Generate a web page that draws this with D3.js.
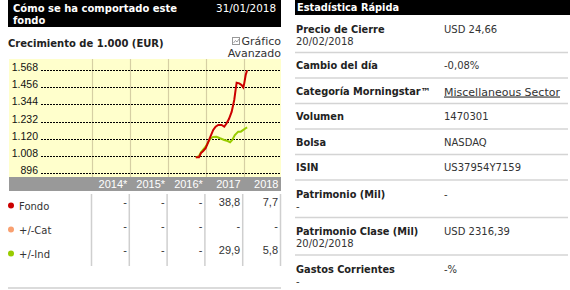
<!DOCTYPE html>
<html lang="es">
	<head>
		<meta charset="utf-8">
		<script src="https://d3js.org/d3.v7.min.js"></script>
		<style>
			body { margin: 0; background: #fff; }
			text { font-family: "DejaVu Sans", Verdana, sans-serif; }
			.arial { font-family: "Liberation Sans", Arial, sans-serif; }
		</style>
	</head>
	<body>
		<script type="text/javascript">

			// Growth of 1.000 (EUR)
			var fondoDates = ["2016-09-24","2016-10-25","2016-11-13","2016-12-05","2016-12-28","2017-01-17","2017-02-08",
				"2017-03-11","2017-04-03","2017-04-28","2017-05-31","2017-06-25","2017-07-18","2017-08-09","2017-09-04",
				"2017-09-29","2017-10-12","2017-10-22","2017-11-16","2017-12-09","2017-12-25","2018-01-03","2018-01-17","2018-01-31"];
			var fondoValues = [1000,1000,1028,1041,1059,1091,1128,1178,1199,1210,1210,1199,1221,1249,1295,1373,1438,1485,1481,1470,1455,1481,1535,1566];

			var indDates = ["2016-09-24","2016-10-25","2016-11-13","2016-12-28","2017-02-08","2017-03-10","2017-04-12","2017-05-15",
				"2017-06-25","2017-07-28","2017-08-20","2017-09-10","2017-10-05","2017-11-06","2017-12-01","2017-12-25","2018-01-17","2018-01-31"];
			var indValues = [1000,1008,1033,1069,1119,1132,1134,1124,1113,1106,1098,1113,1145,1167,1167,1178,1189,1195];

			var yTicks = [896, 1008, 1120, 1232, 1344, 1456, 1568];
			var tickLabels = ["896", "1.008", "1.120", "1.232", "1.344", "1.456", "1.568"];

			// annual returns table
			var years = ["2014*", "2015*", "2016*", "2017", "2018"];
			var rowNames = ["Fondo", "+/-Cat", "+/-Ind"];
			var rowColors = ["#cc0000", "#f9a070", "#99cc00"];
			var fondoRet = ["-", "-", "-", "38,8", "7,7"];
			var catRet = ["-", "-", "-", "-", "-"];
			var indRet = ["-", "-", "-", "29,9", "5,8"];

			// quick stats
			var statLabels = ["Precio de Cierre", "Cambio del día", "Categoría Morningstar™", "Volumen", "Bolsa", "ISIN",
				"Patrimonio (Mil)", "Patrimonio Clase (Mil)", "Gastos Corrientes"];
			var statSubs = ["20/02/2018", "", "", "", "", "", "-", "20/02/2018", "-"];
			var statValues = ["USD 24,66", "-0,08%", "Miscellaneous Sector", "1470301", "NASDAQ", "US37954Y7159",
				"-", "USD 2316,39", "-%"];

			var w = 570;
			var h = 290;

			var svg = d3.select("body")
						.append("svg")
						.attr("width", w)
						.attr("height", h);

			var parse = d3.timeParse("%Y-%m-%d");

			// ---------- left panel ----------
			svg.append("rect").attr("x", 8).attr("y", 0).attr("width", 273).attr("height", 27).attr("fill", "#000");
			svg.append("text").attr("x", 13).attr("y", 11.5).attr("fill", "#fff")
				.style("font-size", "10px").style("font-weight", "bold").text("Cómo se ha comportado este");
			svg.append("text").attr("x", 13).attr("y", 23.5).attr("fill", "#fff")
				.style("font-size", "10px").style("font-weight", "bold").text("fondo");
			svg.append("text").attr("x", 276).attr("y", 11.5).attr("fill", "#fff").attr("text-anchor", "end")
				.style("font-size", "10.4px").text("31/01/2018");

			svg.append("text").attr("x", 8).attr("y", 46.5).attr("fill", "#222")
				.style("font-size", "10px").style("font-weight", "bold").text("Crecimiento de 1.000 (EUR)");

			// small chart icon
			svg.append("rect").attr("x", 232.5).attr("y", 37.5).attr("width", 7).attr("height", 7)
				.attr("fill", "#fff").attr("stroke", "#999");
			svg.append("polyline").attr("points", "233.5,43 235.5,40.5 237,42 239,39")
				.attr("fill", "none").attr("stroke", "#888").attr("stroke-width", 0.8);
			svg.append("text").attr("x", 281).attr("y", 45).attr("fill", "#333").attr("text-anchor", "end")
				.style("font-size", "11px").text("Gráfico");
			svg.append("text").attr("x", 281).attr("y", 57).attr("fill", "#333").attr("text-anchor", "end")
				.style("font-size", "11px").text("Avanzado");

			var chartTop = 59, chartBottom = 177;

			var x = d3.scaleTime()
					  .domain([parse("2014-01-01"), parse("2019-01-01")])
					  .range([92, 282]);
			var y = d3.scaleLinear()
					  .domain([896, 1568])
					  .range([173.3, 70]);

			svg.append("rect").attr("x", 9).attr("y", chartTop).attr("width", 272).attr("height", chartBottom - chartTop)
				.attr("fill", "#ffffcc");

			// vertical year grid
			svg.append("g")
				.selectAll("line")
				.data(d3.timeYear.range(parse("2014-01-01"), parse("2019-01-01")))
				.enter()
				.append("line")
				.attr("x1", function(d) { return Math.round(x(d)) + 0.5; })
				.attr("x2", function(d) { return Math.round(x(d)) + 0.5; })
				.attr("y1", chartTop)
				.attr("y2", chartBottom)
				.attr("stroke", "#d6cfa4")
				.attr("stroke-width", 1.2);

			// y axis with dotted gridlines (rounded so the dots stay crisp)
			var yAxis = d3.axisLeft(y.copy().interpolate(d3.interpolateRound))
						  .tickValues(yTicks)
						  .tickSize(0)
						  .tickPadding(3)
						  .tickFormat(function(d, i) { return tickLabels[i]; });

			var gy = svg.append("g")
						.attr("transform", "translate(281,0)")
						.call(yAxis);
			gy.select(".domain").remove();
			gy.selectAll(".tick line")
			  .attr("x1", -240).attr("x2", 0)
			  .attr("stroke", "#000")
			  .attr("stroke-width", 1)
			  .attr("stroke-dasharray", "2,1");
			gy.selectAll(".tick text")
			  .attr("class", "arial")
			  .attr("x", -243)
			  .attr("dy", "0.05em")
			  .attr("fill", "#111")
			  .style("font-size", "10.5px");

			var line = d3.line()
						 .x(function(d) { return x(d[0]); })
						 .y(function(d) { return y(d[1]); });

			svg.append("path")
				.datum(indDates.map(function(d, i) { return [parse(d), indValues[i]]; }))
				.attr("d", line)
				.attr("fill", "none")
				.attr("stroke", "#99cc00")
				.attr("stroke-width", 2);

			svg.append("path")
				.datum(fondoDates.map(function(d, i) { return [parse(d), fondoValues[i]]; }))
				.attr("d", line)
				.attr("fill", "none")
				.attr("stroke", "#cc0000")
				.attr("stroke-width", 2);

			// year header bar
			var col = d3.scaleBand().domain(years).range([92, 281]);

			svg.append("rect").attr("x", 9).attr("y", chartBottom).attr("width", 272).attr("height", 14).attr("fill", "#999");
			svg.append("g")
				.selectAll("text")
				.data(years)
				.enter()
				.append("text")
				.attr("class", "arial")
				.attr("x", function(d) { return col(d) + col.bandwidth() - 2.5; })
				.attr("y", 188)
				.attr("text-anchor", "end")
				.attr("fill", "#fff")
				.style("font-size", "11px")
				.text(function(d) { return d; });

			// table separators
			svg.append("g")
				.selectAll("line")
				.data([92].concat(years.map(function(d) { return col(d) + col.bandwidth(); })))
				.enter()
				.append("line")
				.attr("x1", function(d) { return d - 0.5; })
				.attr("x2", function(d) { return d - 0.5; })
				.attr("y1", 194)
				.attr("y2", 266)
				.attr("stroke", "#cfcfcf")
				.attr("stroke-width", 1.5);

			var rowsData = [fondoRet, catRet, indRet];
			rowNames.forEach(function(name, r) {
				var cy = 205.5 + r * 24;
				svg.append("circle").attr("cx", 11).attr("cy", cy).attr("r", 3).attr("fill", rowColors[r]);
				svg.append("text").attr("x", 19).attr("y", cy + 4.5).attr("fill", "#333")
					.style("font-size", "10px").text(name);
				svg.append("g")
					.selectAll("text")
					.data(rowsData[r])
					.enter()
					.append("text")
					.attr("class", "arial")
					.attr("x", function(d, i) { return col(years[i]) + col.bandwidth() - 3; })
					.attr("y", cy + 0.5)
					.attr("text-anchor", "end")
					.attr("fill", "#333")
					.style("font-size", "11px")
					.text(function(d) { return d; });
			});

			svg.append("line").attr("x1", 8).attr("x2", 281).attr("y1", 288).attr("y2", 288)
				.attr("stroke", "#cfcfcf").attr("stroke-width", 1.5);

			// ---------- right panel ----------
			svg.append("rect").attr("x", 295).attr("y", 0).attr("width", 275).attr("height", 15).attr("fill", "#000");
			svg.append("text").attr("x", 297).attr("y", 11).attr("fill", "#fff")
				.style("font-size", "9.8px").style("font-weight", "bold").text("Estadística Rápida");

			var rowTop = 15;
			statLabels.forEach(function(label, i) {
				var hasSub = statSubs[i] !== "";
				var rh = hasSub ? 37.5 : 25.5;
				var base = rowTop + (hasSub ? 17.5 : 16.5);
				svg.append("text").attr("x", 296).attr("y", base).attr("fill", "#222")
					.style("font-size", "9.8px").style("font-weight", "bold").text(label);
				if (hasSub) {
					svg.append("text").attr("x", 296).attr("y", base + 12).attr("fill", "#333")
						.style("font-size", "10px").text(statSubs[i]);
				}
				var v = svg.append("text").attr("x", 444).attr("y", base).attr("fill", "#333")
					.style("font-size", "10px").text(statValues[i]);
				if (label.indexOf("Categor") === 0) {
					v.style("font-size", "11px").attr("y", base + 1).style("text-decoration", "underline");
				}
				rowTop += rh;
				svg.append("line").attr("x1", 295).attr("x2", 568).attr("y1", rowTop).attr("y2", rowTop)
					.attr("stroke", "#d4d4d4").attr("stroke-width", 1.5);
			});

		</script>
	</body>
</html>
